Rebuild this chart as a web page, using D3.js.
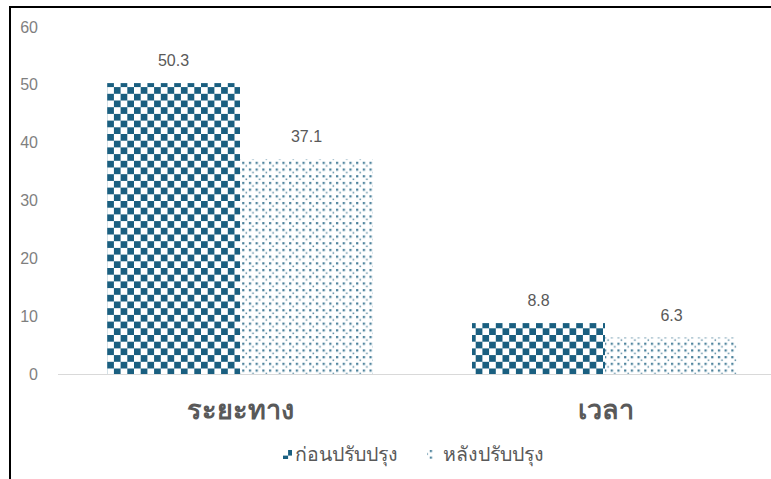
<!DOCTYPE html>
<html><head><meta charset="utf-8">
<script src="https://cdn.jsdelivr.net/npm/d3@7"></script>
<style>
body{margin:0;background:#fff;}
svg{display:block;font-family:"Liberation Sans",Arial,sans-serif;}
</style></head>
<body><svg id="c" width="771" height="479"></svg>
<script>
const categories = ["ระยะทาง", "เวลา"];
const seriesNames = ["ก่อนปรับปรุง", "หลังปรับปรุง"];
const before = [50.3, 8.8];
const after = [37.1, 6.3];
const yTicks = [0, 10, 20, 30, 40, 50, 60];

const svg = d3.select("#c");
const color = "#1a5f80";
const defs = svg.append("defs");
const cs = 6.7;
const chk = defs.append("pattern").attr("id","chk").attr("patternUnits","userSpaceOnUse")
  .attr("width",cs*2).attr("height",cs*2);
chk.append("rect").attr("width",cs*2).attr("height",cs*2).attr("fill","#fff");
chk.append("rect").attr("x",0).attr("y",0).attr("width",cs).attr("height",cs).attr("fill",color);
chk.append("rect").attr("x",cs).attr("y",cs).attr("width",cs).attr("height",cs).attr("fill",color);
const dot = defs.append("pattern").attr("id","dot").attr("patternUnits","userSpaceOnUse")
  .attr("width",cs*2).attr("height",cs*2);
dot.append("rect").attr("width",cs*2).attr("height",cs*2).attr("fill","#fff");
[[0,0],[cs,0],[0,cs],[cs,cs]].forEach(([x,y])=>dot.append("rect").attr("x",x+1).attr("y",y+1).attr("width",2.2).attr("height",2.2).attr("fill",color).attr("opacity",0.8));
[[cs/2,cs/2],[cs*1.5,cs*1.5]].forEach(([x,y])=>dot.append("rect").attr("x",x+1).attr("y",y+1).attr("width",1.5).attr("height",1.5).attr("fill",color).attr("opacity",0.75));

// border
svg.append("path").attr("d","M10,480 L10,7 L772,7").attr("fill","none").attr("stroke","#000").attr("stroke-width",2);

const x0 = d3.scaleBand().domain(categories).range([58, 788]).paddingInner(0).paddingOuter(0);
const x1 = d3.scaleBand().domain(seriesNames).range([49, 365-50]);
const y = d3.scaleLinear().domain([0,60]).range([374, 27]);

// y labels
svg.append("g").selectAll("text").data(yTicks).join("text")
  .attr("x",38).attr("y",d=>y(d)).attr("dy","0.35em").attr("text-anchor","end")
  .attr("fill","#7f7f7f").style("font-size","16px").text(d=>d);

const data = categories.map((c,i)=>({c, vals:[before[i], after[i]]}));
const g = svg.append("g");
data.forEach(d=>{
  d.vals.forEach((v,j)=>{
    const bx = x0(d.c) + x1(seriesNames[j]);
    g.append("rect").attr("x",bx).attr("y",y(v)).attr("width",x1.bandwidth()).attr("height",y(0)-y(v))
      .attr("fill", j===0?"url(#chk)":"url(#dot)");
    g.append("text").attr("x",bx+x1.bandwidth()/2).attr("y",y(v)-17).attr("text-anchor","middle")
      .attr("fill","#595959").style("font-size","16px").text(v.toFixed(1));
  });
});

// axis line
svg.append("line").attr("x1",58).attr("x2",771).attr("y1",374.5).attr("y2",374.5).attr("stroke","#d9d9d9").attr("stroke-width",1);

// category labels
svg.append("g").selectAll("text").data(categories).join("text")
  .attr("x",d=>x0(d)+x0.bandwidth()/2).attr("y",419).attr("text-anchor","middle")
  .attr("fill","#595959").style("font-size","27px").style("font-weight","bold").text(d=>d);

// legend
const leg = svg.append("g");
const legItems = [{n:seriesNames[0], f:"url(#chk)", x:283, tx:295},{n:seriesNames[1], f:"url(#dot)", x:427, tx:443}];
legItems.forEach(it=>{
  leg.append("rect").attr("x",it.x).attr("y",450).attr("width",9).attr("height",9).attr("fill",it.f);
  leg.append("text").attr("x",it.tx).attr("y",461).attr("fill","#595959").style("font-size","19.5px").text(it.n);
});
</script></body></html>
